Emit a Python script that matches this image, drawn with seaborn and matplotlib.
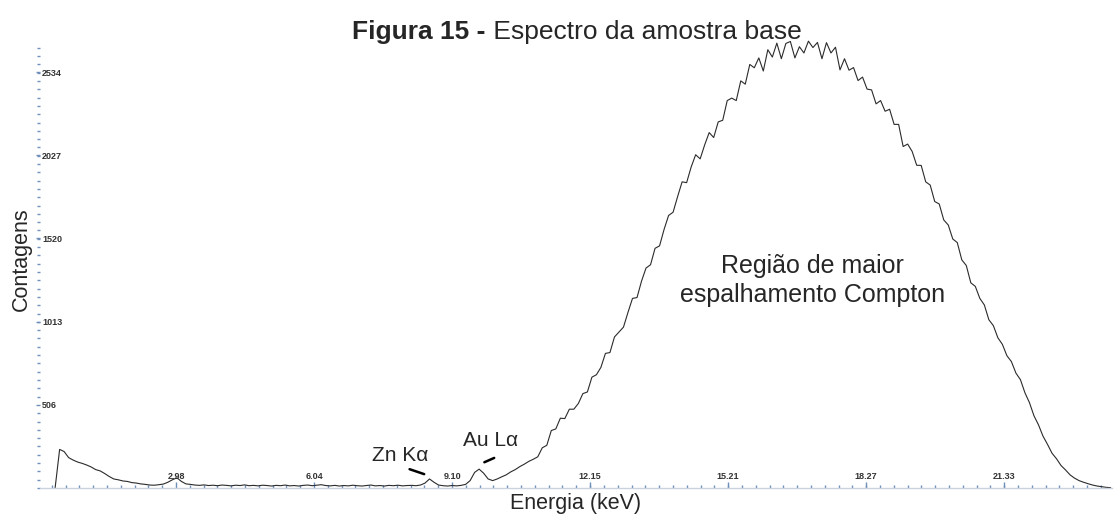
import numpy as np
import matplotlib
matplotlib.use("Agg")
import matplotlib.pyplot as plt
import seaborn as sns

# ---------------- data ----------------
energia_inicio_kev = 0.3      # first channel shown
passo_kev = 0.1               # channel width
contagens = [
    0, 235, 222, 185, 170, 158, 150,                               # 0.3-0.9
    140, 128, 112, 104, 88, 70, 55, 50, 43, 40,                    # 1.x
    33, 30, 25, 22, 18, 17, 20, 24, 35, 50,                        # 2.x
    62, 40, 25, 22, 18, 16, 19, 15, 17, 14,                        # 3.x
    18, 16, 13, 17, 15, 19, 14, 16, 13, 17,                        # 4.x
    15, 12, 16, 14, 18, 13, 15, 12, 16, 18,                        # 5.x
    14, 17, 20, 15, 13, 16, 12, 15, 13, 17,                        # 6.x
    14, 12, 15, 18, 13, 15, 12, 16, 14, 17,                        # 7.x
    13, 15, 16, 14, 18, 30, 55, 35, 18, 14,                        # 8.x
    12, 15, 13, 16, 22, 45, 95, 115, 90, 55,                       # 9.x
    45, 55, 68, 80, 98, 112, 130, 145, 162, 175,                   # 10.x
    190, 245, 260, 350, 360, 425, 423, 480, 480, 515,              # 11.x
    575, 585, 675, 690, 735, 820, 825, 920, 950, 980,              # 12.x
    1070, 1155, 1160, 1260, 1340, 1360, 1460, 1475, 1575, 1660,    # 13.x
    1680, 1775, 1865, 1860, 1955, 2030, 2005, 2090, 2165, 2135,    # 14.x
    2230, 2240, 2360, 2375, 2360, 2480, 2460, 2580, 2560, 2620,    # 15.x
    2540, 2670, 2625, 2710, 2615, 2708, 2720, 2620, 2688, 2650,    # 16.x
    2722, 2683, 2714, 2615, 2713, 2650, 2685, 2547, 2615, 2545,    # 17.x
    2561, 2482, 2503, 2430, 2425, 2340, 2360, 2295, 2307, 2215,    # 18.x
    2215, 2080, 2095, 2050, 1966, 1965, 1865, 1845, 1745, 1730,    # 19.x
    1633, 1602, 1517, 1495, 1390, 1355, 1250, 1228, 1155, 1115,    # 20.x
    1025, 989, 915, 875, 806, 770, 700, 660, 580, 520,             # 21.x
    440, 385, 316, 266, 212, 178, 137, 110, 80, 60,                # 22.x
    45, 35, 26, 18, 12, 8, 4, 2,                                   # 23.0-23.7
]
energia = energia_inicio_kev + passo_kev * np.arange(len(contagens))

x_ticks = [2.98, 6.04, 9.10, 12.15, 15.21, 18.27, 21.33]
x_tick_labels = ["2.98", "6.04", "9.10", "12.15", "15.21", "18.27", "21.33"]
y_ticks = [506, 1013, 1520, 2027, 2534]
y_tick_labels = ["506", "1013", "1520", "2027", "2534"]

titulo_negrito = "Figura 15 -"
titulo_normal = " Espectro da amostra base"
x_label = "Energia (keV)"
y_label = "Contagens"

# ---------------- figure ----------------
sns.set_style("white")
plt.rcParams["font.family"] = ["Liberation Sans", "DejaVu Sans"]

W, H = 1115, 515
fig = plt.figure(figsize=(W / 100, H / 100), dpi=100)
ax = fig.add_axes([40 / W, (H - 488) / H, (1112 - 40) / W, (488 - 40) / H])

sns.lineplot(x=energia, y=contagens, ax=ax, color="#2b2b2b", linewidth=0.8)

ax.set_xlim(-0.035, 23.73)
ax.set_ylim(0, 2729)

for s in ["top", "right", "left"]:
    ax.spines[s].set_visible(False)
ax.spines["bottom"].set_color("#c9d2de")
ax.spines["bottom"].set_linewidth(1.0)

tick_col = "#6f8fba"
ax.tick_params(which="both", bottom=True, left=True, top=False, right=False)
# x ticks
ax.set_xticks(x_ticks, x_tick_labels)
x_step = (x_ticks[1] - x_ticks[0]) / 10
x_minor = np.arange(x_ticks[0] - 10 * x_step, 23.73, x_step)
ax.set_xticks([v for v in x_minor if v > -0.03], minor=True)
ax.tick_params(axis="x", which="major", direction="in", length=4.5, width=1,
               color=tick_col, pad=-5, labelsize=6.5, labelcolor="#333333")
ax.tick_params(axis="x", which="minor", direction="in", length=2.2, width=1,
               color=tick_col)
for lbl in ax.get_xticklabels():
    lbl.set_va("bottom")
    lbl.set_fontweight("bold")

# y ticks
ax.set_yticks(y_ticks, y_tick_labels)
y_step = y_ticks[0] / 10
ax.set_yticks(np.arange(0, 2729, y_step), minor=True)
ax.tick_params(axis="y", which="major", direction="out", length=3, width=1,
               color=tick_col, pad=-4.5, labelsize=6.5, labelcolor="#333333")
ax.tick_params(axis="y", which="minor", direction="out", length=2.2, width=1,
               color=tick_col)
for lbl in ax.get_yticklabels():
    lbl.set_ha("left")
    lbl.set_fontweight("bold")

ax.set_xlabel(x_label, fontsize=15.5, va="center")
ax.xaxis.set_label_coords(0.5, -(504 - 488) / 448)
ax.set_ylabel(y_label, fontsize=15.5, va="center")
ax.yaxis.set_label_coords(-(40 - 21) / 1072, (488 - 259) / 448)

# annotations
ax.text(17.1, 1355, "Região de maior", fontsize=18, ha="center", va="center")
ax.text(17.1, 1175, "espalhamento Compton", fontsize=18, ha="center", va="center")
ax.text(7.95, 195, "Zn Kα", fontsize=15, ha="center", va="center")
ax.text(9.95, 290, "Au Lα", fontsize=15, ha="center", va="center")
ax.annotate("", xy=(8.54, 79), xytext=(8.10, 120),
            arrowprops=dict(arrowstyle="-", lw=1.8, color="black"))
ax.annotate("", xy=(9.76, 150), xytext=(10.09, 190),
            arrowprops=dict(arrowstyle="-", lw=1.8, color="black"))

# title: bold + regular part, centred together
ty = 1 - 39 / H
t1 = fig.text(0, ty, titulo_negrito, fontsize=19, fontweight="bold",
              ha="left", va="baseline")
t2 = fig.text(0, ty, titulo_normal, fontsize=19, ha="left", va="baseline")
fig.canvas.draw()
r = fig.canvas.get_renderer()
w1 = t1.get_window_extent(r).width
w2 = t2.get_window_extent(r).width
x0 = 577 - (w1 + w2) / 2
t1.set_x(x0 / W)
t2.set_x((x0 + w1) / W)

fig.savefig("out.png", dpi=100)
